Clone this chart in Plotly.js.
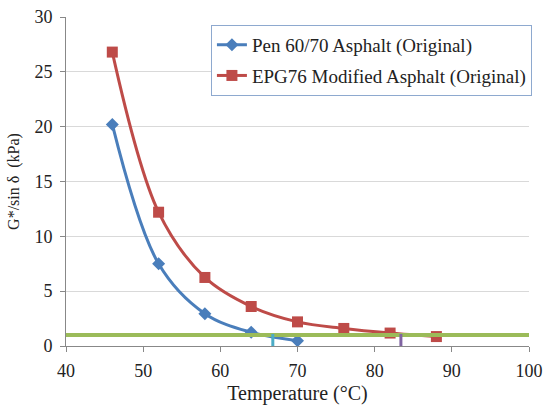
<!DOCTYPE html>
<html><head><meta charset="utf-8">
<script src="https://cdn.plot.ly/plotly-3.0.1.min.js"></script>
<style>html,body{margin:0;padding:0;background:#fff}#chart{width:547px;height:408px}</style>
</head><body><div id="chart"></div>
<script>
const penTemp = [46, 52, 58, 64, 70];
const penG = [20.2, 7.5, 2.95, 1.25, 0.48];
const epgTemp = [46, 52, 58, 64, 70, 76, 82, 88];
const epgG = [26.8, 12.2, 6.25, 3.6, 2.2, 1.6, 1.18, 0.86];
const limitX = [40, 100];
const limitY = [1.0, 1.0];
const penFailX = [66.8, 66.8];
const epgFailX = [83.4, 83.4];
const failY = [-0.1, 1.1];
const names = ["Pen 60/70 Asphalt (Original)", "EPG76 Modified Asphalt (Original)"];

const SERIF = "'Liberation Serif', 'Times New Roman', Times, serif";

const traces = [
  {x: penTemp, y: penG, name: names[0], mode: 'lines+markers', legendgroup: 'a',
   line: {color: '#4A7EBB', width: 3, shape: 'spline', smoothing: 1},
   marker: {symbol: 'diamond', size: 10, color: '#4A7EBB'}},
  {x: epgTemp, y: epgG, name: names[1], mode: 'lines+markers', legendgroup: 'b',
   line: {color: '#BE4B48', width: 3, shape: 'spline', smoothing: 1},
   marker: {symbol: 'square', size: 11, color: '#BE4B48'}},
  {x: limitX, y: limitY, mode: 'lines', showlegend: false, hoverinfo: 'skip',
   line: {color: '#9BBB59', width: 4}},
  {x: penFailX, y: failY, mode: 'lines', showlegend: false, hoverinfo: 'skip',
   line: {color: '#4BACC6', width: 3}},
  {x: epgFailX, y: failY, mode: 'lines', showlegend: false, hoverinfo: 'skip',
   line: {color: '#8064A2', width: 3}}
];

const layout = {
  width: 547, height: 408,
  margin: {l: 66, r: 18, t: 17, b: 62},
  paper_bgcolor: '#fff', plot_bgcolor: '#fff',
  font: {family: SERIF, color: '#222', size: 18},
  xaxis: {
    range: [40, 100], dtick: 10, tick0: 40,
    showgrid: false, zeroline: false,
    showline: true, linecolor: '#888', linewidth: 1,
    ticks: 'outside', ticklen: 5, tickcolor: '#888', ticklabelstandoff: 3,
    tickfont: {size: 18, family: SERIF, color: '#222'},
    title: {text: 'Temperature (°C)', font: {size: 20, family: SERIF, color: '#222'}, standoff: 6}
  },
  yaxis: {
    range: [0, 30], dtick: 5,
    showgrid: true, gridcolor: '#d9d9d9', gridwidth: 1, zeroline: false,
    showline: true, linecolor: '#888', linewidth: 1,
    ticks: 'outside', ticklen: 5, tickcolor: '#888', ticklabelstandoff: 4,
    tickfont: {size: 18, family: SERIF, color: '#222'},
    title: {text: 'G*/sin δ  (kPa)', font: {size: 16, family: SERIF, color: '#222'}, standoff: 10}
  },
  legend: {
    x: 0.313, y: 0.976, xanchor: 'left', yanchor: 'top',
    bgcolor: '#fff', bordercolor: '#8EA9CF', borderwidth: 1,
    font: {size: 19, family: SERIF, color: '#222'},
    itemwidth: 30, traceorder: 'grouped', tracegroupgap: 3
  },
  showlegend: true
};

Plotly.newPlot('chart', traces, layout, {displayModeBar: false, staticPlot: true});
</script></body></html>
